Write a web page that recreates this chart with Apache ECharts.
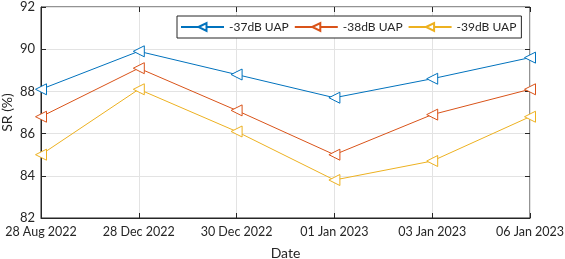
<!DOCTYPE html>
<html><head><meta charset="utf-8">
<script src="https://cdn.jsdelivr.net/npm/echarts@6/dist/echarts.min.js"></script>
<style>html,body{margin:0;padding:0;background:#fff}#c{width:565px;height:259px}</style>
</head><body><div id="c"></div>
<script>
var categories = ['28 Aug 2022','28 Dec 2022','30 Dec 2022','01 Jan 2023','03 Jan 2023','06 Jan 2023'];
var uap37 = [88.1, 89.9, 88.8, 87.7, 88.6, 89.6];
var uap38 = [86.8, 89.1, 87.1, 85.0, 86.9, 88.1];
var uap39 = [85.0, 88.1, 86.1, 83.8, 84.7, 86.8];
var seriesNames = ['-37dB UAP','-38dB UAP','-39dB UAP'];
var colors = ['#0072BD','#D95319','#EDB120'];
var font = 'Lato';
var chart = echarts.init(document.getElementById('c'));
function mk(name, data, color){
  return {name:name,type:'line',data:data,symbol:'triangle',symbolRotate:90,symbolSize:11,
    showAllSymbol:true,
    lineStyle:{color:color,width:1},itemStyle:{color:'#fff',borderColor:color,borderWidth:1},
    emphasis:{disabled:true}};
}
chart.setOption({
  animation:false,
  textStyle:{fontFamily:font},
  grid:{left:41,right:35,top:7,bottom:41,show:true,borderColor:'#262626',borderWidth:1,containLabel:false,outerBoundsMode:'none'},
  legend:{top:16,left:177,orient:'horizontal',itemWidth:43,itemHeight:10,itemGap:5,
    backgroundColor:'#fff',borderColor:'#262626',borderWidth:1,borderRadius:0,padding:[5,5,5,3],
    textStyle:{fontFamily:font,fontSize:12,color:'#262626'},
    data:seriesNames},
  xAxis:[{type:'category',data:categories,boundaryGap:false,
    name:'Date',nameLocation:'middle',nameGap:28,nameMoveOverlap:false,nameTextStyle:{fontSize:14,color:'#262626'},
    axisLine:{lineStyle:{color:'#262626'}},
    axisTick:{inside:true,length:5,lineStyle:{color:'#262626'}},
    axisLabel:{color:'#262626',fontSize:12.5,margin:7,interval:0},
    splitLine:{show:true,lineStyle:{color:'#e3e3e3'}}},
   {type:'category',data:categories,boundaryGap:false,position:'top',
    axisLine:{show:false},axisTick:{inside:true,length:5,lineStyle:{color:'#262626'}},axisLabel:{show:false},splitLine:{show:false}}],
  yAxis:[{type:'value',min:82,max:92,interval:2,
    name:'SR (%)',nameLocation:'middle',nameGap:27,nameMoveOverlap:false,nameTextStyle:{fontSize:14,color:'#262626'},
    axisLine:{show:true,lineStyle:{color:'#262626'}},
    axisTick:{show:true,inside:true,length:5,lineStyle:{color:'#262626'}},
    axisLabel:{color:'#262626',fontSize:13,margin:6},
    splitLine:{show:true,lineStyle:{color:'#e3e3e3'}}},
   {type:'value',min:82,max:92,interval:2,position:'right',
    axisLine:{show:false},axisTick:{show:true,inside:true,length:5,lineStyle:{color:'#262626'}},axisLabel:{show:false},splitLine:{show:false}}],
  series:[mk(seriesNames[0],uap37,colors[0]),mk(seriesNames[1],uap38,colors[1]),mk(seriesNames[2],uap39,colors[2])]
});
</script></body></html>
